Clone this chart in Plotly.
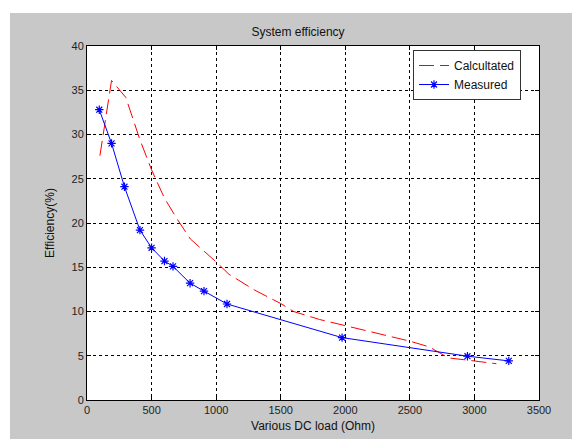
import plotly.graph_objects as go

# Data
calc_load = [100, 190, 300, 410, 500, 600, 700, 800, 1000, 1100, 1300, 1500, 1600, 1800, 2000, 2300, 2500, 2650, 2800, 2950, 3170]
calc_eff = [27.6, 36.1, 34.2, 29.4, 26.0, 22.8, 20.4, 18.2, 15.6, 14.2, 12.4, 10.9, 10.0, 9.1, 8.4, 7.4, 6.65, 6.0, 4.75, 4.5, 4.1]

meas_load = [95, 190, 290, 410, 500, 600, 666, 798, 906, 1084, 1975, 2946, 3266]
meas_eff = [32.8, 29.0, 24.1, 19.2, 17.2, 15.7, 15.1, 13.2, 12.3, 10.85, 7.05, 4.95, 4.42]

x_ticks = [0, 500, 1000, 1500, 2000, 2500, 3000, 3500]
y_ticks = [0, 5, 10, 15, 20, 25, 30, 35, 40]

W, H = 580, 439
OFF = 8  # page body margin offset
L, R, T, B = 87 - OFF, 539 - OFF, 46 - OFF, 400 - OFF
pw, ph = R - L, B - T

def px_x(px):
    return (px - OFF - L) / pw

def px_y(py):
    return (B - (py - OFF)) / ph

fig = go.Figure()
fig.add_trace(go.Scatter(
    x=calc_load, y=calc_eff, mode="lines", name="Calcultated",
    line=dict(color="#ff0000", width=1, dash="15px,6px"),
))
fig.add_trace(go.Scatter(
    x=meas_load, y=meas_eff, mode="lines+markers", name="Measured",
    line=dict(color="#0000ff", width=1),
    marker=dict(symbol="asterisk-open", size=7, color="#0000ff",
                line=dict(color="#0000ff", width=1.2)),
))

axis_common = dict(
    showgrid=True, gridcolor="black", griddash="3px,3px", gridwidth=1,
    zeroline=False, showline=True, linecolor="black", linewidth=1, mirror="ticks",
    ticks="inside", ticklen=4, tickcolor="black",
    tickfont=dict(family="Liberation Sans, Arial, sans-serif", size=11, color="#222222"),
)

fig.update_layout(
    width=W, height=H,
    margin=dict(l=L, r=W - R, t=T, b=H - B, pad=0),
    paper_bgcolor="#c8c8c8",
    plot_bgcolor="white",
    font=dict(family="Liberation Sans, Arial, sans-serif", size=12, color="#111111"),
    title=dict(text="System efficiency", x=px_x(313), xanchor="center",
               y=1 - (32 - OFF) / H, yanchor="middle",
               font=dict(size=12, color="#111111")),
    xaxis=dict(range=[0, 3500], tickvals=x_ticks,
               title=dict(text="Various DC load (Ohm)", standoff=6,
                          font=dict(size=12, color="#111111")),
               **axis_common),
    yaxis=dict(range=[0, 40], tickvals=y_ticks,
               title=dict(text="Efficiency(%)", standoff=14,
                          font=dict(size=12, color="#111111")),
               **axis_common),
    legend=dict(x=px_x(413), y=px_y(50), xanchor="left", yanchor="top",
                bgcolor="white", bordercolor="#333333", borderwidth=1,
                font=dict(size=12, color="#111111"),
                itemwidth=30, tracegroupgap=0),
    showlegend=True,
    shapes=[
        dict(type="rect", xref="paper", yref="paper",
             x0=px_x(-20), x1=px_x(W + 20), y0=px_y(13), y1=px_y(-20),
             fillcolor="white", line=dict(width=0), layer="above"),
        dict(type="rect", xref="paper", yref="paper",
             x0=px_x(-20), x1=px_x(10), y0=px_y(H + 20), y1=px_y(-20),
             fillcolor="white", line=dict(width=0), layer="above"),
    ],
)

fig.write_html("out.html")
